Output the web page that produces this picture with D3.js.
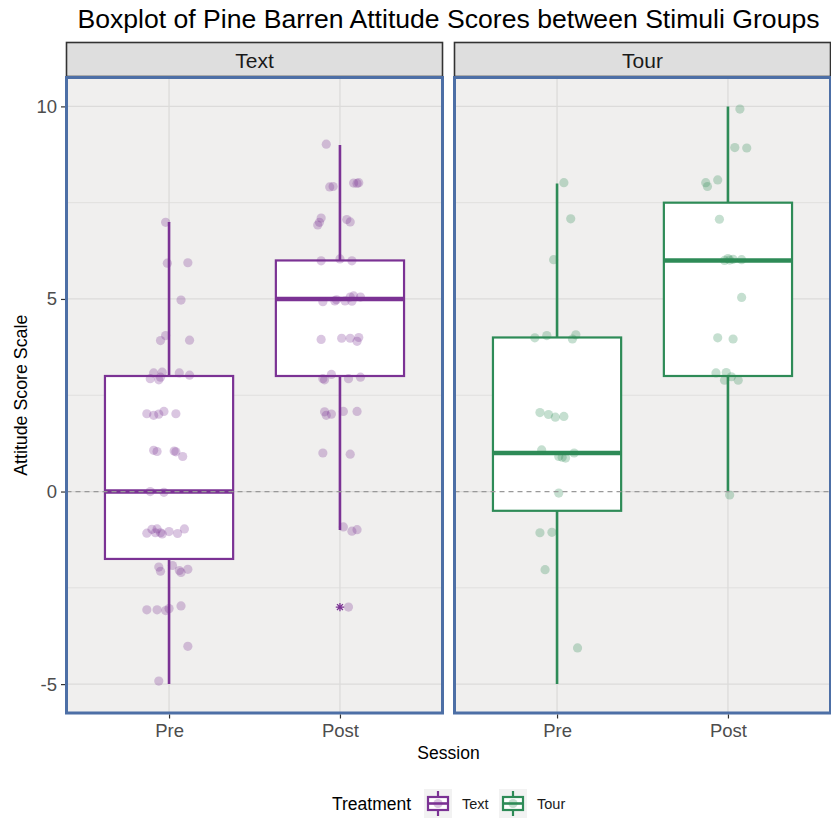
<!DOCTYPE html>
<html>
<head>
<meta charset="utf-8">
<title>Boxplot of Pine Barren Attitude Scores</title>
<script src="https://cdn.jsdelivr.net/npm/d3@7"></script>
<style>
  body { margin: 0; background: #fff; }
  text { font-family: "Liberation Sans", Arial, sans-serif; }
</style>
</head>
<body>
<svg id="chart" width="831" height="821"></svg>
<script>
// ---- data ----
var treatments = ["Text", "Tour"];
var sessions = ["Pre", "Post"];
var treatmentColors = ["#7b3294", "#2e8b57"];
var yTicks = [-5, 0, 5, 10];
var yMinorTicks = [-2.5, 2.5, 7.5];

// box statistics, one entry per treatment x session
var boxTreatment = ["Text", "Text", "Tour", "Tour"];
var boxSession = ["Pre", "Post", "Pre", "Post"];
var boxLower = [-5, -1, -5, 0];
var boxQ1 = [-1.75, 3, -0.5, 3];
var boxMedian = [0, 5, 1, 6];
var boxQ3 = [3, 6, 4, 7.5];
var boxUpper = [7, 9, 8, 10];

// outliers drawn by the boxplot layer
var outlierTreatment = ["Text"];
var outlierSession = ["Post"];
var outlierValue = [-3];

// jittered points: [offset in category widths, score]
var textPre = [[-0.02, 6.99], [-0.01, 5.93], [0.11, 5.94], [0.07, 4.97], [-0.02, 4.05],
  [-0.05, 3.92], [0.12, 3.93], [-0.09, 3.08], [-0.04, 3.1], [-0.11, 2.93], [-0.06, 2.9],
  [-0.05, 2.97], [0.06, 3.08], [0.12, 3.02], [-0.13, 2.02], [-0.09, 1.98], [-0.06, 2.01],
  [-0.03, 2.08], [0.04, 2.02], [-0.09, 1.07], [-0.07, 1.04], [0.03, 1.05], [0.04, 1.03],
  [0.08, 0.91], [-0.11, 0], [-0.03, -0.02], [-0.10, -0.98], [-0.07, -0.97], [-0.13, -1.08],
  [-0.08, -1.07], [-0.05, -1.07], [-0.04, -1.1], [0, -1.04], [0.05, -1.09], [0.09, -0.97],
  [-0.06, -1.96], [-0.05, -2.07], [0.02, -1.92], [0.06, -2.05], [0.07, -2.1], [0.11, -2.02],
  [-0.13, -3.07], [-0.07, -3.07], [-0.02, -3.09], [0, -3.04], [0.07, -2.97], [0.11, -4.02],
  [-0.06, -4.92]];
var textPost = [[-0.08, 9.02], [-0.06, 7.91], [-0.04, 7.92], [0.08, 8.01], [0.10, 8.0],
  [0.11, 8.02], [-0.12, 6.99], [-0.11, 7.1], [-0.13, 6.92], [0.04, 7.06], [0.06, 7.0],
  [-0.11, 5.99], [0, 6.04], [0.07, 5.99], [-0.10, 4.93], [-0.03, 4.95], [0.03, 4.95],
  [0.07, 4.94], [0.12, 5.05], [-0.02, 4.98], [0.08, 5.08], [0.06, 5.05], [-0.11, 3.95],
  [0.01, 3.98], [0.06, 3.98], [0.11, 4.0], [0.10, 3.9], [-0.10, 2.93], [-0.09, 2.9],
  [-0.05, 3.04], [0.05, 2.93], [0.12, 2.97], [-0.09, 2.07], [-0.08, 1.98], [-0.05, 2.01],
  [0.02, 2.08], [0.10, 2.08], [-0.10, 1.0], [0.06, 0.97], [0.02, -0.92], [0.07, -1.03],
  [0.10, -0.99], [0.05, -3.0]];
var tourPre = [[0.04, 8.02], [0.08, 7.08], [-0.02, 6.02], [-0.13, 3.99], [-0.06, 4.05],
  [0.11, 4.07], [0.09, 3.96], [-0.10, 2.05], [-0.05, 2.0], [-0.01, 1.93], [0.04, 1.95],
  [-0.09, 1.08], [0.01, 0.91], [0.03, 0.89], [0.05, 0.87], [0.10, 1.0], [0.01, -0.04],
  [-0.10, -1.07], [-0.03, -1.06], [-0.07, -2.03], [0.12, -4.06]];
var tourPost = [[0.07, 9.93], [0.04, 8.93], [0.11, 8.92], [-0.13, 8.02], [-0.12, 7.92],
  [-0.06, 8.09], [-0.05, 7.07], [-0.02, 6.0], [0, 6.05], [0.01, 6.01], [0.03, 6.03],
  [0.08, 6.02], [0.08, 5.04], [-0.06, 3.99], [0.03, 3.96], [-0.07, 3.08], [-0.01, 3.09],
  [0.02, 2.98], [-0.02, 2.89], [0.06, 2.89], [0.01, -0.09]];
var pointSets = {Text: {Pre: textPre, Post: textPost}, Tour: {Pre: tourPre, Post: tourPost}};

// ---- layout ----
var svg = d3.select("#chart");
var font = '"Liberation Sans", Arial, sans-serif';
var panelLeft = [66.5, 454.5];
var panelW = 376;
var panelTop = 77.5, panelBottom = 713;
var stripTop = 42.5;

var color = d3.scaleOrdinal().domain(treatments).range(treatmentColors);
var y = d3.scaleLinear().domain([-5.75, 10.75]).range([panelBottom, panelTop]);
var x = d3.scalePoint().domain(sessions).range([0, panelW]).padding(0.6);
var boxW = x.step() * 0.75;

svg.append("text")
  .attr("x", (panelLeft[0] + panelLeft[1] + panelW) / 2)
  .attr("y", 28)
  .attr("text-anchor", "middle")
  .attr("font-size", "26.6px")
  .attr("fill", "#000")
  .text("Boxplot of Pine Barren Attitude Scores between Stimuli Groups");

// ggplot shape 8: a "+" laid over an "x"
function asterisk(r) {
  var d = r * Math.SQRT1_2;
  return "M" + (-r) + ",0L" + r + ",0M0," + (-r) + "L0," + r +
    "M" + (-d) + "," + (-d) + "L" + d + "," + d + "M" + (-d) + "," + d + "L" + d + "," + (-d);
}

treatments.forEach(function (t, ti) {
  var g = svg.append("g").attr("transform", "translate(" + panelLeft[ti] + ",0)");

  // strip
  g.append("rect")
    .attr("x", 0).attr("y", stripTop)
    .attr("width", panelW).attr("height", panelTop - stripTop - 1)
    .attr("fill", "#dedede").attr("stroke", "#333").attr("stroke-width", 1.6);
  g.append("text")
    .attr("x", panelW / 2).attr("y", 67.5)
    .attr("text-anchor", "middle")
    .attr("font-size", "21px").attr("fill", "#1a1a1a")
    .text(t);

  // panel background + grid
  g.append("rect")
    .attr("x", 0).attr("y", panelTop)
    .attr("width", panelW).attr("height", panelBottom - panelTop)
    .attr("fill", "#f0efee");
  g.selectAll(".minor").data(yMinorTicks).enter().append("line")
    .attr("x1", 0).attr("x2", panelW)
    .attr("y1", function (d) { return y(d); }).attr("y2", function (d) { return y(d); })
    .attr("stroke", "#e0dfde").attr("stroke-width", 1);
  g.selectAll(".major").data(yTicks).enter().append("line")
    .attr("x1", 0).attr("x2", panelW)
    .attr("y1", function (d) { return y(d); }).attr("y2", function (d) { return y(d); })
    .attr("stroke", "#dcdbda").attr("stroke-width", 1.3);
  g.selectAll(".vgrid").data(sessions).enter().append("line")
    .attr("x1", function (d) { return x(d); }).attr("x2", function (d) { return x(d); })
    .attr("y1", panelTop).attr("y2", panelBottom)
    .attr("stroke", "#dcdbda").attr("stroke-width", 1.3);

  // boxes
  var idx = d3.range(boxTreatment.length).filter(function (i) { return boxTreatment[i] === t; });
  var c = color(t);
  var boxes = g.selectAll(".box").data(idx).enter().append("g");
  boxes.append("line")
    .attr("x1", function (i) { return x(boxSession[i]); })
    .attr("x2", function (i) { return x(boxSession[i]); })
    .attr("y1", function (i) { return y(boxUpper[i]); })
    .attr("y2", function (i) { return y(boxLower[i]); })
    .attr("stroke", c).attr("stroke-width", 2.6);
  boxes.append("rect")
    .attr("x", function (i) { return x(boxSession[i]) - boxW / 2; })
    .attr("y", function (i) { return y(boxQ3[i]); })
    .attr("width", boxW)
    .attr("height", function (i) { return y(boxQ1[i]) - y(boxQ3[i]); })
    .attr("fill", "#fff").attr("stroke", c).attr("stroke-width", 2.2);
  boxes.append("line")
    .attr("x1", function (i) { return x(boxSession[i]) - boxW / 2; })
    .attr("x2", function (i) { return x(boxSession[i]) + boxW / 2; })
    .attr("y1", function (i) { return y(boxMedian[i]); })
    .attr("y2", function (i) { return y(boxMedian[i]); })
    .attr("stroke", c).attr("stroke-width", 4.4);

  // outliers (asterisk)
  var oIdx = d3.range(outlierTreatment.length).filter(function (i) { return outlierTreatment[i] === t; });
  g.selectAll(".outlier").data(oIdx).enter().append("path")
    .attr("d", asterisk(4.2))
    .attr("transform", function (i) { return "translate(" + x(outlierSession[i]) + "," + y(outlierValue[i]) + ")"; })
    .attr("fill", "none").attr("stroke", c).attr("stroke-width", 1.3);

  // jittered points
  sessions.forEach(function (s) {
    g.selectAll(".pt-" + s).data(pointSets[t][s]).enter().append("circle")
      .attr("cx", function (d) { return x(s) + d[0] * x.step(); })
      .attr("cy", function (d) { return y(d[1]); })
      .attr("r", 4.6)
      .attr("fill", c).attr("fill-opacity", 0.28);
  });

  // dashed reference line at zero
  g.append("line")
    .attr("x1", 0).attr("x2", panelW)
    .attr("y1", y(0)).attr("y2", y(0))
    .attr("stroke", "#999").attr("stroke-width", 1.2)
    .attr("stroke-dasharray", "5,4");

  // panel border
  g.append("rect")
    .attr("x", 0).attr("y", panelTop)
    .attr("width", panelW).attr("height", panelBottom - panelTop)
    .attr("fill", "none").attr("stroke", "#4d6fa6").attr("stroke-width", 3);

  // x axis
  var xa = g.append("g")
    .attr("transform", "translate(0," + (panelBottom + 1.5) + ")")
    .call(d3.axisBottom(x).tickSize(4).tickPadding(5));
  xa.select(".domain").remove();
  xa.selectAll("line").attr("stroke", "#333").attr("stroke-width", 1.2);
  xa.selectAll("text").attr("font-family", font).attr("font-size", "18.5px").attr("fill", "#4d4d4d");
});

// y axis (left panel only)
var ya = svg.append("g")
  .attr("transform", "translate(" + (panelLeft[0] - 1.5) + ",0)")
  .call(d3.axisLeft(y).tickValues(yTicks).tickSize(4).tickPadding(4)
    .tickFormat(d3.format("d")));
ya.select(".domain").remove();
ya.selectAll("line").attr("stroke", "#333").attr("stroke-width", 1.2);
ya.selectAll("text").attr("font-family", font).attr("font-size", "18.5px").attr("fill", "#4d4d4d");
ya.selectAll("text").text(function (d) { return d < 0 ? "-" + Math.abs(d) : d; });

// axis titles
svg.append("text")
  .attr("transform", "translate(27," + ((panelTop + panelBottom) / 2) + ") rotate(-90)")
  .attr("text-anchor", "middle")
  .attr("font-size", "17.8px").attr("fill", "#000")
  .text("Attitude Score Scale");
svg.append("text")
  .attr("x", (panelLeft[0] + panelLeft[1] + panelW) / 2)
  .attr("y", 759)
  .attr("text-anchor", "middle")
  .attr("font-size", "17.5px").attr("fill", "#000")
  .text("Session");

// legend
var legend = svg.append("g");
legend.append("text")
  .attr("x", 332).attr("y", 810)
  .attr("font-size", "17.5px").attr("fill", "#000")
  .text("Treatment");
var keyX = [424, 499];
treatments.forEach(function (t, i) {
  var k = legend.append("g").attr("transform", "translate(" + keyX[i] + ",789)");
  var c = color(t);
  k.append("rect").attr("width", 28).attr("height", 29).attr("fill", "#f2f2f2");
  k.append("line").attr("x1", 14).attr("x2", 14).attr("y1", 2).attr("y2", 27)
    .attr("stroke", c).attr("stroke-width", 2.2);
  k.append("rect").attr("x", 4).attr("y", 8).attr("width", 20).attr("height", 13)
    .attr("fill", "#fff").attr("stroke", c).attr("stroke-width", 2.2);
  k.append("line").attr("x1", 4).attr("x2", 24).attr("y1", 14.5).attr("y2", 14.5)
    .attr("stroke", c).attr("stroke-width", 2.6);
  k.append("circle").attr("cx", 14).attr("cy", 14.5).attr("r", 4.6)
    .attr("fill", c).attr("fill-opacity", 0.28);
  legend.append("text")
    .attr("x", keyX[i] + 38).attr("y", 809)
    .attr("font-size", "14.5px").attr("fill", "#1a1a1a")
    .text(t);
});
</script>
</body>
</html>
